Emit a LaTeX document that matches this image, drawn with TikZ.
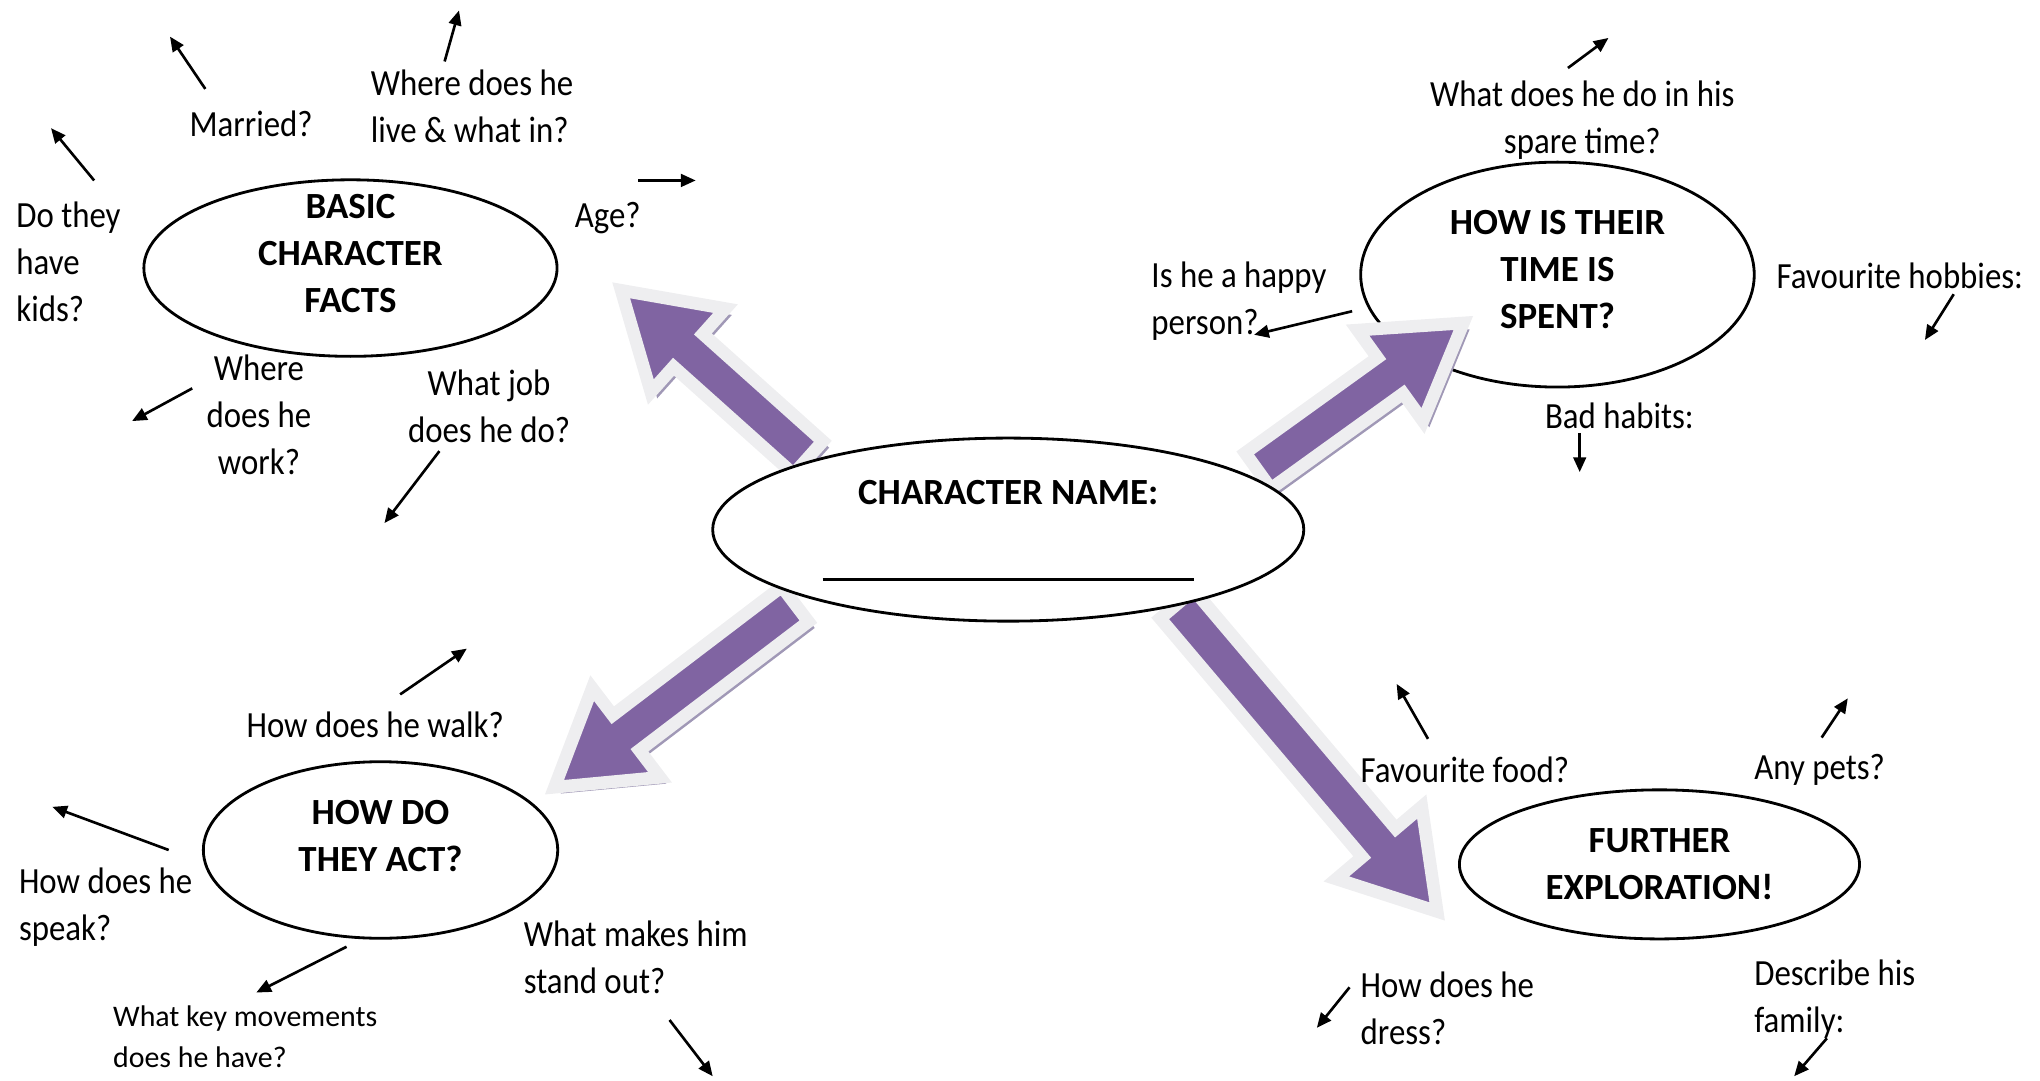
\documentclass[tikz,border=0pt]{standalone}
\usepackage{fontspec}
\setmainfont{Carlito}
\newfontfamily\qfont{Carlito}[FakeStretch=0.89]
\usepackage{tikz}
\usetikzlibrary{arrows.meta, shapes.geometric, calc}
\definecolor{carte_violet}{RGB}{128, 100, 162}
\definecolor{carte_bord}{RGB}{238, 238, 240}
\definecolor{carte_ombre}{RGB}{160, 152, 182}
\newcommand{\dpx}{0.013077cm}
\newcommand{\shaftw}{0.22cm}
\newcommand{\headw}{0.56cm}
\newcommand{\headlen}{0.9cm}
\newcommand{\arrowpath}[1]{($(#1-tail)!\shaftw!90:(#1-tip)$) -- ($(#1-head)!\shaftw!-90:(#1-tail)$)
  -- ($(#1-head)!\headw!-90:(#1-tail)$) -- (#1-tip) -- ($(#1-head)!\headw!90:(#1-tail)$)
  -- ($(#1-head)!\shaftw!90:(#1-tail)$) -- ($(#1-tail)!\shaftw!-90:(#1-tip)$) -- cycle}

\begin{document}
\begin{tikzpicture}[x=\dpx, y=-\dpx,
    topic/.style={ellipse, draw, line width=0.8pt, fill=white, inner sep=0pt},
    title/.style={font=\bfseries\fontsize{10.5}{13.4}\selectfont, align=center, inner sep=0pt},
    question/.style={font=\qfont\fontsize{10.5}{13.4}\selectfont, align=left, inner sep=0pt},
    smallq/.style={font=\fontsize{8.5}{11.6}\selectfont, align=left, inner sep=0pt},
    qarrow/.style={-{Triangle[length=4.2pt, width=3.6pt]}, line width=0.75pt}]
  \useasboundingbox (0,0) rectangle (1560,826);
  % Bulles extérieures
  \node[topic, minimum width=316*\dpx, minimum height=135*\dpx] (facts) at (268,205) {};
  \node[topic, minimum width=301*\dpx, minimum height=172*\dpx] (spent) at (1191,210) {};
  \node[topic, minimum width=271*\dpx, minimum height=135*\dpx] (act) at (291,650) {};
  \node[topic, minimum width=306*\dpx, minimum height=114*\dpx] (further) at (1269,661) {};
  % Grosses flèches violettes
  \coordinate (facts-tail) at (618,350);   \coordinate (facts-tip) at (475,222);
  \coordinate (spent-tail) at (962,360);   \coordinate (spent-tip) at (1119,247);
  \coordinate (act-tail) at (608,462);     \coordinate (act-tip) at (424,602);
  \coordinate (further-tail) at (900,462); \coordinate (further-tip) at (1099,697);
  \foreach \a in {facts, spent, act, further} {
    \coordinate (\a-head) at ($(\a-tip)!\headlen!(\a-tail)$);
    \fill[carte_ombre, transform canvas={xshift=1.8pt, yshift=-1.8pt}] \arrowpath{\a};
    \filldraw[fill=carte_violet, draw=carte_bord, line width=3.6pt, line join=miter] \arrowpath{\a};
  }
  % Bulle centrale
  \node[topic, minimum width=452*\dpx, minimum height=140*\dpx] (name) at (771,405) {};
  \node[title] (name-t) at (771,377) {CHARACTER NAME:};
  \node[inner sep=0pt] (name-line) at (771,443) {\rule{3.71cm}{0.8pt}};
  % Titres
  \node[title] (facts-t) at (268,194) {BASIC\\CHARACTER\\FACTS};
  \node[title] (spent-t) at (1191,206) {HOW IS THEIR\\TIME IS\\SPENT?};
  \node[title] (act-t) at (291,639) {HOW DO\\THEY ACT?};
  \node[title] (further-t) at (1269,661) {FURTHER\\EXPLORATION!};
  % Questions
  \node[question] (married) at (192,95) {Married?};
  \node[question, anchor=west] (live) at (283,81) {Where does he\\live \& what in?};
  \node[question, anchor=west] (kids) at (12,200) {Do they\\have\\kids?};
  \node[question, anchor=west] (age) at (439,167) {Age?};
  \node[question, align=center] (work) at (198,317) {Where\\does he\\work?};
  \node[question, align=center] (job) at (374,311) {What job\\does he do?};
  \node[question, align=center] (spare) at (1210,92) {What does he do in his\\spare time?};
  \node[question, anchor=west] (happy) at (880,230) {Is he a happy\\person?};
  \node[question, anchor=west] (hobbies) at (1358,211) {Favourite hobbies:};
  \node[question, anchor=west] (habits) at (1181,318) {Bad habits:};
  \node[question, anchor=west] (walk) at (188,554) {How does he walk?};
  \node[question, anchor=west] (speak) at (14,694) {How does he\\speak?};
  \node[smallq, anchor=west] (moves) at (86,793) {What key movements\\does he have?};
  \node[question, anchor=west] (standout) at (400,732) {What makes him\\stand out?};
  \node[question, anchor=west] (food) at (1040,589) {Favourite food?};
  \node[question, anchor=west] (pets) at (1341,589) {Any pets?};
  \node[question, anchor=west] (dress) at (1040,771) {How does he\\dress?};
  \node[question, anchor=west] (family) at (1341,764) {Describe his\\family:};
  % Petites flèches
  \foreach \n/\xa/\ya/\xb/\yb in {married/157/68/130/28, live/340/47/351/8, kids/72/138/39/98,
      age/488/138/532/138, work/147/297/101/322, job/336/345/294/400, spare/1199/52/1230/29,
      happy/1034/238/959/256, hobbies/1494/225/1472/260, habits/1208/331/1208/361,
      walk/306/531/357/496, speak/129/650/40/617, moves/265/724/196/759, standout/512/780/545/823,
      food/1092/565/1068/523, pets/1393/564/1413/534, dress/1032/755/1007/786, family/1397/794/1372/823} {
    \coordinate (\n-from) at (\xa,\ya);
    \coordinate (\n-to) at (\xb,\yb);
    \draw[qarrow] (\n-from) -- (\n-to);
  }
\end{tikzpicture}
\end{document}
